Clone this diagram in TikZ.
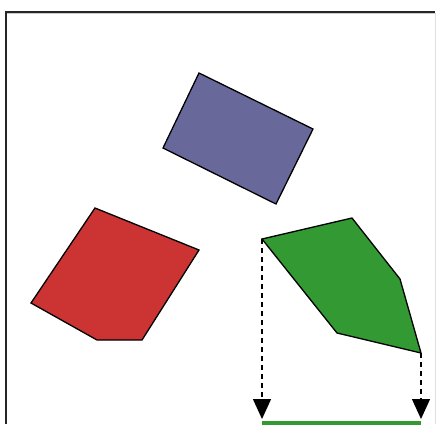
\documentclass[tikz,border=0pt]{standalone}
\usetikzlibrary{arrows.meta}
\definecolor{shapeblue}{RGB}{104,104,154}
\definecolor{shapered}{RGB}{204,51,51}
\definecolor{shapegreen}{RGB}{51,153,51}
\begin{document}
\begin{tikzpicture}[x=1pt,y=-1pt,
  poly/.style={draw=black,line width=1.3pt,line join=miter},
  proj/.style={dashed,line width=1.3pt,dash pattern=on 5pt off 4pt,
    -{Triangle[width=18pt,length=20pt]}},
  frameline/.style={line width=2pt,draw=black!85}]
\useasboundingbox (0,0) rectangle (436,424);
% frame
\draw[line width=2pt,draw=black!20] (7,13) -- (435,13);
\draw[frameline] (6,424) -- (6,12) -- (435,12);
\draw[line width=1pt,draw=black!12] (435,13) -- (435,424);
% blue rectangle
\fill[shapeblue] (199,73) -- (313,129) -- (276,204) -- (163,148) -- cycle;
\draw[poly] (199,73) -- (313,129) -- (276,204) -- (163,148) -- cycle;
% red pentagon
\fill[shapered] (95,208) -- (199,250) -- (142,340) -- (97,340) -- (31,303) -- cycle;
\draw[poly] (95,208) -- (199,250) -- (142,340) -- (97,340) -- (31,303) -- cycle;
% green pentagon
\coordinate (g1) at (262,239);
\coordinate (g2) at (352,218);
\coordinate (g3) at (400,279);
\coordinate (g4) at (421,353);
\coordinate (g5) at (337,333);
\fill[shapegreen] (g1) -- (g2) -- (g3) -- (g4) -- (g5) -- cycle;
\draw[poly] (g1) -- (g2) -- (g3) -- (g4) -- (g5) -- cycle;
% projection
\coordinate (p1) at (262,419);
\coordinate (p2) at (421,419);
\draw[shapegreen,line width=5pt] (262,423) -- (421,423);
\draw[proj] (g1) -- (p1);
\draw[proj] (g4) -- (p2);
\end{tikzpicture}
\end{document}
